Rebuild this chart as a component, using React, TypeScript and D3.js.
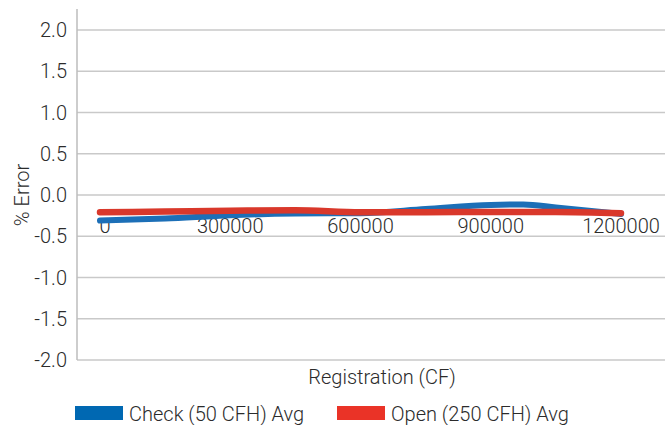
import React from "react";
import * as d3 from "d3";

const xValues = [0, 150000, 300000, 450000, 600000, 750000, 900000, 975000, 1050000, 1200000];
const checkAvg = [-0.31, -0.285, -0.245, -0.225, -0.22, -0.17, -0.12, -0.115, -0.15, -0.23];
const openAvg = [-0.21, -0.2, -0.19, -0.185, -0.21, -0.21, -0.205, -0.205, -0.205, -0.22];

const xTicks = [0, 300000, 600000, 900000, 1200000];
const yTicks = [2.0, 1.5, 1.0, 0.5, 0.0, -0.5, -1.0, -1.5, -2.0];

const seriesNames = ["Check (50 CFH) Avg", "Open (250 CFH) Avg"];
const lineColors = ["#1c6fb7", "#d9382b"];
const legendColors = ["#0068b2", "#ea3327"];

const W = 665, H = 425;
const font = "Roboto, 'Liberation Sans', sans-serif";
const textColor = "#2b2b2b";

export default function App() {
  const x = d3.scaleLinear().domain([0, 1200000]).range([100, 621]);
  const y = d3.scaleLinear().domain([-2, 2]).range([360, 30]);

  const line = d3
    .line<number>()
    .x((_, i) => x(xValues[i]))
    .y((d) => y(d))
    .curve(d3.curveMonotoneX);

  const plotLeft = 77;
  const plotRight = 665;

  return (
    <svg
      width={W}
      height={H}
      style={{ position: "absolute", left: 0, top: 0, background: "#fff" }}
      fontFamily={font}
      fontWeight={300}
    >
      {/* gridlines */}
      {yTicks.map((t) => (
        <line
          key={t}
          x1={plotLeft}
          x2={plotRight}
          y1={y(t)}
          y2={y(t)}
          stroke="#c9c9c9"
          strokeWidth={1.5}
        />
      ))}
      <line x1={plotLeft} x2={plotLeft} y1={9} y2={y(-2)} stroke="#bdbdbd" strokeWidth={1.5} />

      {/* y tick labels */}
      {yTicks.map((t) => (
        <text
          key={t}
          x={67}
          y={y(t)}
          dy="0.35em"
          textAnchor="end"
          fontSize={20}
          fill={textColor}
        >
          {t.toFixed(1)}
        </text>
      ))}

      {/* x tick labels */}
      {xTicks.map((t) => (
        <text
          key={t}
          x={x(t) + (t === 0 ? 5 : 0)}
          y={233}
          textAnchor="middle"
          fontSize={20}
          fill={textColor}
        >
          {t}
        </text>
      ))}

      {/* series */}
      <path d={line(checkAvg) || ""} fill="none" stroke={lineColors[0]} strokeWidth={6} strokeLinecap="round" />
      <path d={line(openAvg) || ""} fill="none" stroke={lineColors[1]} strokeWidth={6.5} strokeLinecap="round" />

      {/* axis titles */}
      <text
        transform={`translate(29,${y(0)}) rotate(-90)`}
        textAnchor="middle"
        fontSize={20}
        fill={textColor}
      >
        % Error
      </text>
      <text x={382} y={384} textAnchor="middle" fontSize={20} fill={textColor}>
        Registration (CF)
      </text>

      {/* legend */}
      {seriesNames.map((name, i) => {
        const lx = i === 0 ? 75 : 337;
        return (
          <g key={name}>
            <rect x={lx} y={406} width={48} height={14} fill={legendColors[i]} />
            <text x={lx + 54} y={421} fontSize={20} fill={textColor}>
              {name}
            </text>
          </g>
        );
      })}
    </svg>
  );
}
